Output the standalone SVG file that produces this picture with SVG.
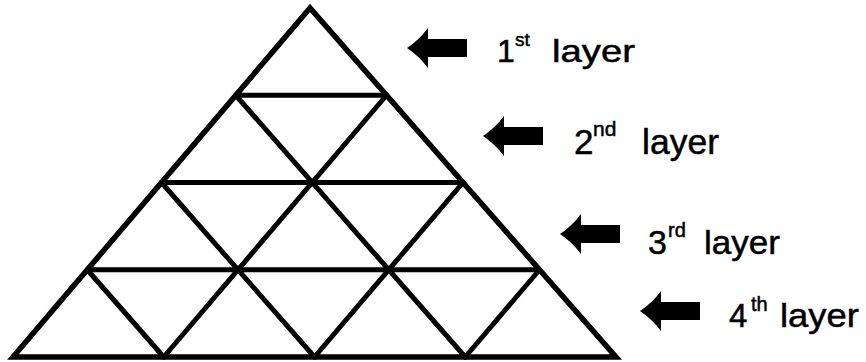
<svg xmlns="http://www.w3.org/2000/svg" width="866" height="362" viewBox="0 0 866 362">
<style>
.ln{stroke:#000;stroke-width:5;fill:none;stroke-linecap:round}
.edge{stroke:#000;stroke-width:5.5;fill:none;stroke-linejoin:miter}
.t{font-family:"Liberation Sans",Arial,sans-serif;fill:#000;stroke:#000;stroke-width:0.5}
.arw{fill:#000}
</style>
<defs>
<path id="arrow" class="arw" d="M0,0 Q12,-8 21,-20 L21,-9 L60,-9 L60,9 L21,9 L21,20 Q12,8 0,0 Z"/>
</defs>
<rect width="866" height="362" fill="#fff"/>
<g id="pyramid">
<polygon class="edge" points="310,8 13,357 616,357"/>
<line class="ln" x1="235.75" y1="95.25" x2="386.5" y2="95.25"/>
<line class="ln" x1="161.5" y1="182.5" x2="463" y2="182.5"/>
<line class="ln" x1="87.25" y1="269.75" x2="539.5" y2="269.75"/>
<line class="ln" x1="386.5" y1="95.25" x2="163.75" y2="357"/>
<line class="ln" x1="463" y1="182.5" x2="314.5" y2="357"/>
<line class="ln" x1="539.5" y1="269.75" x2="465.25" y2="357"/>
<line class="ln" x1="235.75" y1="95.25" x2="465.25" y2="357"/>
<line class="ln" x1="161.5" y1="182.5" x2="314.5" y2="357"/>
<line class="ln" x1="87.25" y1="269.75" x2="163.75" y2="357"/>
</g>
<g id="connectors">
<use href="#arrow" x="407" y="48"/>
<use href="#arrow" x="483" y="136"/>
<use href="#arrow" x="560" y="234"/>
<use href="#arrow" x="640" y="311"/>
</g>
<g id="label1">
<text class="t" x="497" y="62" font-size="32">1</text>
<text class="t" x="515" y="46" font-size="19">st</text>
<text class="t" x="552" y="62" font-size="32" textLength="83" lengthAdjust="spacingAndGlyphs">layer</text>
</g>
<g id="label2">
<text class="t" x="574" y="154" font-size="35">2</text>
<text class="t" x="593" y="136" font-size="21">nd</text>
<text class="t" x="642" y="154" font-size="35" textLength="77" lengthAdjust="spacingAndGlyphs">layer</text>
</g>
<g id="label3">
<text class="t" x="648" y="254" font-size="34">3</text>
<text class="t" x="668" y="237" font-size="20">rd</text>
<text class="t" x="704" y="254" font-size="34" textLength="76" lengthAdjust="spacingAndGlyphs">layer</text>
</g>
<g id="label4">
<text class="t" x="729" y="327" font-size="33">4</text>
<text class="t" x="751" y="311" font-size="20">th</text>
<text class="t" x="780" y="327" font-size="33" textLength="79" lengthAdjust="spacingAndGlyphs">layer</text>
</g>
</svg>
